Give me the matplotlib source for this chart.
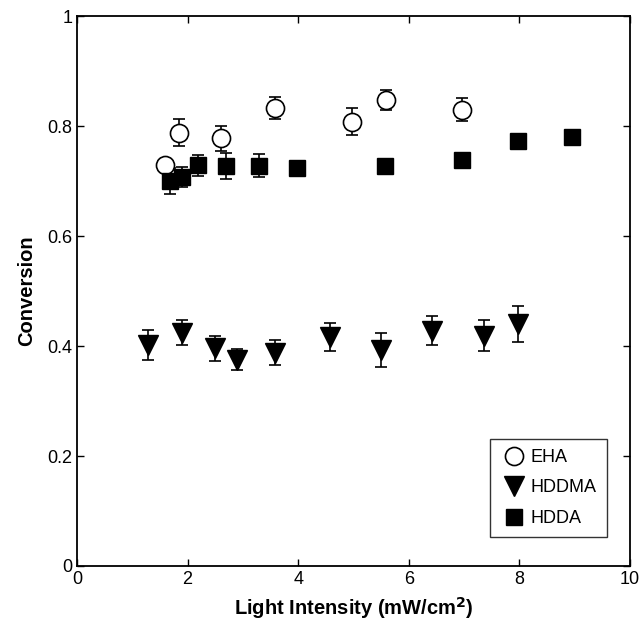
import numpy as np
import matplotlib.pyplot as plt
from matplotlib.lines import Line2D

# --- Data ---
eha_x = [1.59, 1.85, 2.6, 3.58, 4.98, 5.59, 6.97]
eha_y = [0.729, 0.788, 0.778, 0.832, 0.808, 0.848, 0.830]
eha_err = [0.0, 0.024, 0.023, 0.020, 0.025, 0.018, 0.021]

hddma_x = [1.29, 1.89, 2.49, 2.89, 3.58, 4.57, 5.50, 6.43, 7.37, 7.98]
hddma_y = [0.402, 0.424, 0.396, 0.375, 0.388, 0.416, 0.392, 0.428, 0.419, 0.440]
hddma_err = [0.027, 0.023, 0.023, 0.019, 0.023, 0.025, 0.031, 0.027, 0.028, 0.033]

hdda_x = [1.68, 1.89, 2.19, 2.69, 3.29, 3.98, 5.58, 6.97, 7.97, 8.96]
hdda_y = [0.700, 0.708, 0.729, 0.727, 0.728, 0.723, 0.727, 0.738, 0.773, 0.781]
hdda_err = [0.024, 0.018, 0.019, 0.024, 0.021, 0.008, 0.008, 0.0, 0.0, 0.006]

plt.rcParams['font.family'] = ['Liberation Sans', 'DejaVu Sans']

fig = plt.figure(figsize=(6.42, 6.21), dpi=100)
ax = fig.add_axes([0.12, 0.0886, 0.861, 0.8855])

ebkw = dict(ecolor='black', elinewidth=1.2, capsize=4, capthick=1.2, linestyle='none')
ax.errorbar(eha_x, eha_y, yerr=eha_err, marker='o', ms=13, mfc='white', mec='black',
            mew=1.2, **ebkw)
ax.errorbar(hdda_x, hdda_y, yerr=hdda_err, marker='s', ms=11.5, mfc='black', mec='black',
            **ebkw)
ax.errorbar(hddma_x, hddma_y, yerr=hddma_err, marker='v', ms=15, mfc='black', mec='black',
            **ebkw)

ax.set_xlim(0, 10)
ax.set_ylim(0, 1)
ax.set_xticks([0, 2, 4, 6, 8, 10])
ax.set_yticks([0, 0.2, 0.4, 0.6, 0.8, 1])
ax.set_yticklabels(['0', '0.2', '0.4', '0.6', '0.8', '1'])
ax.tick_params(direction='in', top=True, right=True, length=5, width=1, labelsize=13)
for s in ax.spines.values():
    s.set_linewidth(1.3)

ax.set_xlabel('Light Intensity (mW/cm$^\\mathbf{2}$)', fontsize=14.5, fontweight='bold', labelpad=5)
ax.set_ylabel('Conversion', fontsize=14.5, fontweight='bold', labelpad=8)

handles = [
    Line2D([], [], marker='o', ms=13, mfc='white', mec='black', mew=1.2, ls='none'),
    Line2D([], [], marker='v', ms=15, mfc='black', mec='black', ls='none'),
    Line2D([], [], marker='s', ms=11.5, mfc='black', mec='black', ls='none'),
]
leg = ax.legend(handles, ['EHA', 'HDDMA', 'HDDA'], loc='lower right',
                bbox_to_anchor=(0.958, 0.053), borderaxespad=0, fontsize=13,
                frameon=True, fancybox=False, edgecolor='black', handlelength=1.6,
                handletextpad=0.1, labelspacing=0.75, borderpad=0.55)
leg.get_frame().set_linewidth(1.0)

fig.savefig('out.png', dpi=100)
